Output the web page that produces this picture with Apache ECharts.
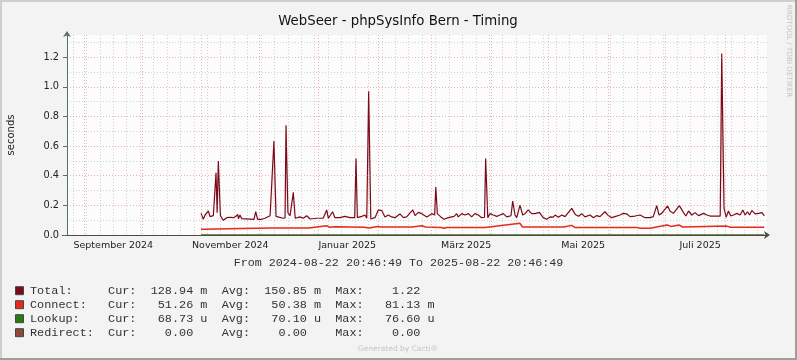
<!DOCTYPE html>
<html><head><meta charset="utf-8">
<script src="https://cdn.jsdelivr.net/npm/echarts@6/dist/echarts.min.js"></script>
<style>html,body{margin:0;padding:0;background:#f3f3f3}#c{width:797px;height:360px}</style>
</head><body><div id="c"></div>
<script>
// ---------- texts ----------
const titleText = 'WebSeer - phpSysInfo Bern - Timing';
const yAxisName = 'seconds';
const rangeText = 'From 2024-08-22 20:46:49 To 2025-08-22 20:46:49';
const sideText = 'RRDTOOL / TOBI OETIKER';
const footerText = 'Generated by Cacti\u00AE';
const startTime = '2024-08-22T20:46:49';
const spanDays = 365;

// ---------- axis ticks ----------
const yMajorTicks = [0, 0.2, 0.4, 0.6, 0.8, 1.0, 1.2];
const yMinorTicks = [0.1, 0.3, 0.5, 0.7, 0.9, 1.1, 1.3];
const yMax = 1.35;
const monthStarts = ['2024-09-01','2024-10-01','2024-11-01','2024-12-01','2025-01-01','2025-02-01',
  '2025-03-01','2025-04-01','2025-05-01','2025-06-01','2025-07-01','2025-08-01'];
const monthLabelDates = ['2024-09-16','2024-11-16','2025-01-16','2025-03-19','2025-05-19','2025-07-19'];
const monthLabelTexts = ['September 2024','November 2024','Januar 2025','M\u00E4rz 2025','Mai 2025','Juli 2025'];
const firstMonday = '2024-08-26';

// ---------- data (x = days since start, y = seconds) ----------
const totalDays = [69.9,71.1,72.0,72.8,73.7,74.6,76.3,77.3,77.7,78.3,78.9,80.0,81.5,83.3,84.1,85.0,86.7,88.1,89.0,89.4,
  90.2,91.1,91.9,97.5,98.4,99.4,101.5,103.2,105.9,106.9,107.9,109.0,112.6,113.7,114.2,115.2,116.3,118.0,119.0,121.5,
  123.2,125.0,126.7,130.2,133.6,135.4,136.3,138.5,139.7,142.3,144.9,147.6,150.0,150.7,151.4,153.7,155.4,156.3,157.3,158.4,
  160.6,162.3,164.1,165.8,167.5,169.3,171.0,173.6,175.4,177.1,180.3,181.5,183.2,185.0,187.6,190.2,191.7,192.3,193.1,194.9,
  196.6,198.8,201.8,203.2,204.0,205.8,207.5,209.3,211.0,212.7,214.5,216.2,217.7,218.3,219.4,220.6,222.3,224.1,225.8,227.5,
  229.3,231.5,232.4,233.6,234.5,236.2,237.6,238.8,240.5,242.3,244.0,246.3,248.3,250.1,251.9,253.6,254.5,256.2,258.0,259.7,
  263.2,265.0,266.7,268.4,270.1,272.7,274.5,276.2,277.9,280.5,282.3,284.0,285.7,288.4,290.1,291.9,293.6,296.2,298.8,301.4,
  304.0,305.7,307.5,308.7,310.1,313.2,314.4,316.2,319.3,321.4,322.7,324.1,325.8,327.5,329.3,331.9,333.7,335.3,340.6,341.4,
  342.6,343.7,344.9,346.1,347.5,349.3,351.0,352.4,353.6,354.8,355.9,357.1,358.8,360.6,362.4,363.6];
const totalVals = [0.146,0.106,0.135,0.128,0.162,0.124,0.131,0.125,0.42,0.15,0.50,0.13,0.099,0.117,0.11,0.12,0.117,0.126,0.14,0.11,
  0.135,0.11,0.106,0.106,0.157,0.106,0.106,0.113,0.13,0.12,0.634,0.126,0.113,0.115,0.74,0.15,0.13,0.288,0.113,0.122,
  0.113,0.13,0.108,0.113,0.113,0.169,0.113,0.157,0.117,0.117,0.126,0.117,0.117,0.517,0.117,0.126,0.135,0.113,0.971,0.108,
  0.117,0.169,0.165,0.122,0.135,0.122,0.117,0.142,0.117,0.122,0.169,0.131,0.153,0.144,0.122,0.144,0.135,0.324,0.144,0.122,
  0.106,0.117,0.126,0.144,0.122,0.144,0.135,0.144,0.122,0.144,0.135,0.117,0.12,0.517,0.117,0.144,0.135,0.126,0.135,0.144,
  0.122,0.13,0.229,0.135,0.117,0.202,0.135,0.144,0.169,0.144,0.144,0.153,0.117,0.106,0.122,0.12,0.135,0.12,0.135,0.124,
  0.18,0.139,0.126,0.144,0.122,0.135,0.117,0.131,0.124,0.157,0.131,0.117,0.124,0.135,0.146,0.142,0.124,0.128,0.135,0.117,
  0.117,0.124,0.198,0.135,0.146,0.196,0.162,0.146,0.198,0.153,0.128,0.162,0.135,0.151,0.131,0.146,0.135,0.128,0.128,1.225,
  0.18,0.12,0.162,0.128,0.135,0.146,0.135,0.169,0.135,0.157,0.135,0.166,0.142,0.146,0.151,0.129];

const connectDays = [69.9,71.5,72.0,98.0,98.5,99.5,106.0,126.0,135.4,137.0,140.0,155.0,157.5,162.0,164.0,180.0,181.0,185.0,187.0,195.0,
  196.6,198.0,218.0,219.0,236.2,237.5,259.0,263.2,265.0,297.0,299.0,304.0,306.0,313.0,315.0,319.3,321.0,344.0,346.0,363.6];
const connectVals = [0.038,0.038,0.045,0.045,0.038,0.045,0.048,0.048,0.063,0.052,0.056,0.052,0.048,0.058,0.054,0.054,0.063,0.063,0.054,0.05,
  0.046,0.05,0.05,0.054,0.079,0.054,0.054,0.065,0.05,0.05,0.046,0.046,0.05,0.067,0.058,0.067,0.054,0.06,0.052,0.052];

const lookupDays = [69.9, 363.6];
const lookupVals = [0.00007, 0.00007];
const redirectDays = [69.9, 363.6];
const redirectVals = [0, 0];

// ---------- legend ----------
const legendNames = ['Total:', 'Connect:', 'Lookup:', 'Redirect:'];
const legendCur = ['128.94 m', '51.26 m', '68.73 u', '0.00'];
const legendAvg = ['150.85 m', '50.38 m', '70.10 u', '0.00'];
const legendMax = ['1.22', '81.13 m', '76.60 u', '0.00'];
const seriesColors = ['#7d0a1a', '#e8281a', '#2b7a17', '#93463a'];

// ---------- helpers ----------
const t0 = Date.parse(startTime + 'Z');
const toDay = s => (Date.parse(s + 'T00:00:00Z') - t0) / 864e5;
const monthTickDays = monthStarts.map(toDay);
const labelDays = monthLabelDates.map(toDay);
const weekDays = [];
for (let d = toDay(firstMonday); d < spanDays; d += 7) weekDays.push(d);
const zip = (xs, ys) => xs.map((x, i) => [x, ys[i]]);

function pad(s, n) { while (s.length < n) s = ' ' + s; return s; }
function fmtVal(v) {
  const parts = v.split(' ');
  return pad(parts[0], 6) + ' ' + (parts[1] || ' ');
}
function legendLine(i) {
  let name = legendNames[i];
  while (name.length < 11) name += ' ';
  return name + 'Cur:  ' + fmtVal(legendCur[i]) + '  Avg:  ' + fmtVal(legendAvg[i]) + '  Max:   ' + pad(legendMax[i].split(' ')[0], 5) + ' ' + (legendMax[i].split(' ')[1] || '');
}

const W = 797, H = 360;
const gridL = 67, gridR = 767, gridT = 35, gridB = 235;
const mono = '"Liberation Mono", "DejaVu Sans Mono", monospace';
const sans = '"DejaVu Sans", sans-serif';
const majorGrid = {show: true, lineStyle: {color: 'rgba(225,100,100,0.5)', width: 1, type: [1, 2]}};
const minorGrid = {show: true, lineStyle: {color: 'rgba(160,160,160,0.45)', width: 1, type: [1, 2]}};

const graphics = [
  {type: 'rect', shape: {x: 0, y: 0, width: W, height: H}, style: {fill: '#f3f3f3'}, z: -10, silent: true},
  {type: 'line', shape: {x1: 0, y1: 1, x2: W, y2: 1}, style: {stroke: '#cfcfcf', lineWidth: 2}, z: -9},
  {type: 'line', shape: {x1: 1, y1: 0, x2: 1, y2: H}, style: {stroke: '#cfcfcf', lineWidth: 2}, z: -9},
  {type: 'line', shape: {x1: 0, y1: H - 1, x2: W, y2: H - 1}, style: {stroke: '#9e9e9e', lineWidth: 2}, z: -9},
  {type: 'line', shape: {x1: W - 1, y1: 0, x2: W - 1, y2: H}, style: {stroke: '#9e9e9e', lineWidth: 2}, z: -9},
  {type: 'line', shape: {x1: 62, y1: 235.5, x2: 67, y2: 235.5}, style: {stroke: '#4a4a42', lineWidth: 1}},
  {type: 'text', x: 398, y: 22, style: {text: titleText, font: '13.3px ' + sans, fill: '#111', align: 'center', verticalAlign: 'middle'}},
  {type: 'text', x: 11, y: 135, rotation: Math.PI / 2, style: {text: yAxisName, font: '10px ' + sans, fill: '#222', align: 'center', verticalAlign: 'middle'}},
  {type: 'text', x: 398.5, y: 263, style: {text: rangeText, font: '11.7px ' + mono, fill: '#333', align: 'center', verticalAlign: 'middle'}},
  {type: 'text', x: 789, y: 51, rotation: -Math.PI / 2, style: {text: sideText, font: '7.2px ' + sans, fill: '#c4c4c4', align: 'center', verticalAlign: 'middle'}},
  {type: 'text', x: 398, y: 349, style: {text: footerText, font: '7.5px ' + sans, fill: '#c4c4c4', align: 'center', verticalAlign: 'middle'}}
];
const rowY = [290.7, 304.7, 318.7, 332.7];
for (let i = 0; i < 4; i++) {
  graphics.push({type: 'rect', shape: {x: 15.5, y: rowY[i] - 4, width: 8, height: 8}, style: {fill: seriesColors[i], stroke: '#3d4a44', lineWidth: 1}});
  graphics.push({type: 'text', x: 30, y: rowY[i], style: {text: legendLine(i), font: '11.83px ' + mono, fill: '#333', align: 'left', verticalAlign: 'middle'}});
}

const option = {
  animation: false,
  backgroundColor: '#f3f3f3',
  grid: {left: gridL, right: W - gridR, top: gridT, bottom: H - gridB, show: true, backgroundColor: '#fcfcfc', borderWidth: 0},
  xAxis: [
    {type: 'value', min: 0, max: spanDays, position: 'bottom',
      axisLine: {show: true, onZero: false, lineStyle: {color: '#4a4a42', width: 1}, symbol: ['none', 'arrow'], symbolSize: [6, 6], symbolOffset: [0, 3]},
      axisTick: {show: false, customValues: monthTickDays},
      axisLabel: {show: true, customValues: labelDays, margin: 6, color: '#222', fontFamily: 'DejaVu Sans', fontSize: 9.5,
        formatter: v => { let best = 0; labelDays.forEach((d, i) => { if (Math.abs(d - v) < Math.abs(labelDays[best] - v)) best = i; }); return monthLabelTexts[best]; }},
      splitLine: majorGrid, z: 3},
    {type: 'value', min: 0, max: spanDays, position: 'bottom',
      axisLine: {show: false}, axisTick: {show: false, customValues: weekDays}, axisLabel: {show: false},
      splitLine: minorGrid}
  ],
  yAxis: [
    {type: 'value', min: 0, max: yMax,
      axisLine: {show: true, lineStyle: {color: '#557068', width: 1}, symbol: ['none', 'arrow'], symbolSize: [6, 6], symbolOffset: [0, 4]},
      axisTick: {show: true, length: 4, lineStyle: {color: '#557068'}, customValues: yMajorTicks},
      axisLabel: {show: true, customValues: yMajorTicks, margin: 8, color: '#222', fontFamily: 'DejaVu Sans', fontSize: 9.8, formatter: v => v.toFixed(1)},
      splitLine: majorGrid, z: 3},
    {type: 'value', min: 0, max: yMax,
      axisLine: {show: false}, axisTick: {show: false, customValues: yMinorTicks}, axisLabel: {show: false},
      splitLine: minorGrid}
  ],
  series: [
    {name: 'Redirect', type: 'line', data: zip(redirectDays, redirectVals), showSymbol: false, lineStyle: {color: seriesColors[3], width: 1}, z: 1},
    {name: 'Lookup', type: 'line', data: zip(lookupDays, lookupVals), showSymbol: false, lineStyle: {color: seriesColors[2], width: 1}, z: 1},
    {name: 'Connect', type: 'line', data: zip(connectDays, connectVals), showSymbol: false, lineStyle: {color: seriesColors[1], width: 1.5}, z: 2},
    {name: 'Total', type: 'line', data: zip(totalDays, totalVals), showSymbol: false, lineStyle: {color: seriesColors[0], width: 1.2}, z: 2,
      areaStyle: {color: {type: 'linear', x: 0, y: 50, x2: 0, y2: 215, global: true,
        colorStops: [{offset: 0, color: 'rgba(125,10,26,0.6)'}, {offset: 1, color: 'rgba(125,10,26,0)'}]}}}
  ],
  graphic: graphics
};
const chart = echarts.init(document.getElementById('c'), null, {renderer: 'canvas'});
chart.setOption(option);
</script></body></html>
